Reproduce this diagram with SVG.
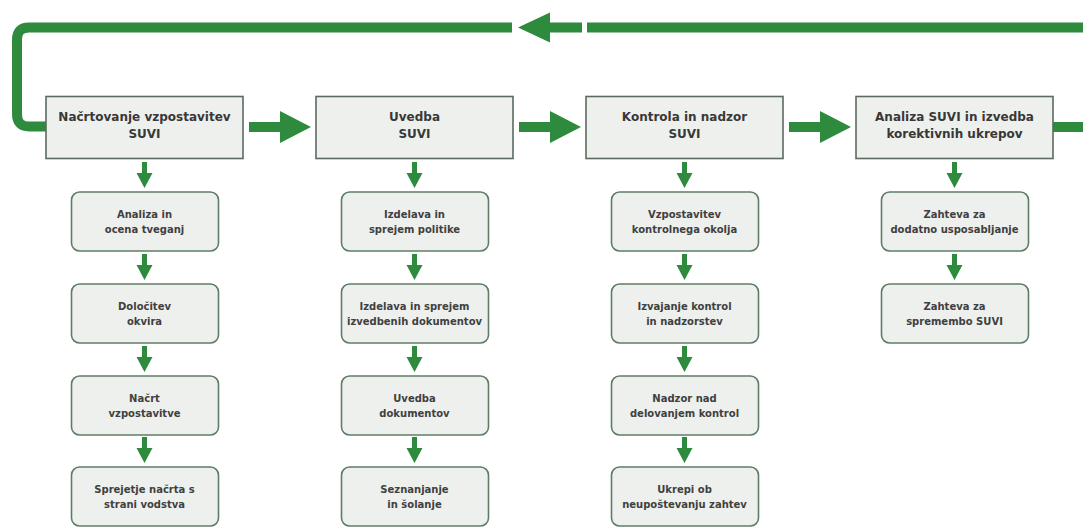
<svg xmlns="http://www.w3.org/2000/svg" xmlns:xlink="http://www.w3.org/1999/xlink" width="1083" height="527" viewBox="0 0 1083 527">
<style>
.main rect{fill:#eef0ee;stroke:#5c6a5f;stroke-width:1.6}
.sub rect{fill:#eef0ee;stroke:#5f7d66;stroke-width:1.6}
.main text{font-family:"DejaVu Sans",Verdana,sans-serif;font-weight:bold;font-size:12px;fill:#383838;text-anchor:middle}
.sub text{font-family:"DejaVu Sans",Verdana,sans-serif;font-weight:bold;font-size:10px;fill:#404040;text-anchor:middle}
.g{fill:#2e8b3d}
.bar{fill:none;stroke:#2e8b3d;stroke-width:10}
</style>
<defs>
<path id="va" class="g" d="M-2.5,-26 H2.5 V-15 H8 L0,0 L-8,-15 H-2.5 Z"/>
<path id="ha" class="g" d="M0,-5 H31 V-16 L62,0 L31,16 V5 H0 Z"/>
</defs>
<rect width="1083" height="527" fill="#ffffff"/>
<g id="connectors">
<path class="bar" d="M1083,27.5 H587"/>
<path class="g" d="M582,22.5 V32.5 H550 V42.5 L518,27.5 L550,12.5 V22.5 Z"/>
<path class="bar" d="M512,27.5 H29 Q17,27.5 17,39.5 V114 Q17,126.5 29,126.5 H46"/>
<path class="bar" d="M1053,127 H1083"/>
<use xlink:href="#ha" x="249" y="127"/>
<use xlink:href="#ha" x="519" y="127"/>
<use xlink:href="#ha" x="789" y="127"/>
<use xlink:href="#va" x="144.5" y="188"/>
<use xlink:href="#va" x="144.5" y="280"/>
<use xlink:href="#va" x="144.5" y="372"/>
<use xlink:href="#va" x="144.5" y="463"/>
<use xlink:href="#va" x="414.5" y="188"/>
<use xlink:href="#va" x="414.5" y="280"/>
<use xlink:href="#va" x="414.5" y="372"/>
<use xlink:href="#va" x="414.5" y="463"/>
<use xlink:href="#va" x="684.5" y="188"/>
<use xlink:href="#va" x="684.5" y="280"/>
<use xlink:href="#va" x="684.5" y="372"/>
<use xlink:href="#va" x="684.5" y="463"/>
<use xlink:href="#va" x="954.5" y="188"/>
<use xlink:href="#va" x="954.5" y="280"/>
</g>
<g id="m1" class="main"><rect x="46" y="96.5" width="197" height="62"/><text x="144.5" y="121">Načrtovanje vzpostavitev</text><text x="144.5" y="138">SUVI</text></g>
<g id="m2" class="main"><rect x="316" y="96.5" width="197" height="62"/><text x="414.5" y="121">Uvedba</text><text x="414.5" y="138">SUVI</text></g>
<g id="m3" class="main"><rect x="586" y="96.5" width="197" height="62"/><text x="684.5" y="121">Kontrola in nadzor</text><text x="684.5" y="138">SUVI</text></g>
<g id="m4" class="main"><rect x="856" y="96.5" width="197" height="62"/><text x="954.5" y="121">Analiza SUVI in izvedba</text><text x="954.5" y="138">korektivnih ukrepov</text></g>

<g id="a1" class="sub"><rect x="71.5" y="192" width="147" height="59" rx="8"/><text x="144.5" y="218">Analiza in</text><text x="144.5" y="233">ocena tveganj</text></g>
<g id="a2" class="sub"><rect x="71.5" y="284" width="147" height="59" rx="8"/><text x="144.5" y="310">Določitev</text><text x="144.5" y="325">okvira</text></g>
<g id="a3" class="sub"><rect x="71.5" y="376" width="147" height="59" rx="8"/><text x="144.5" y="402">Načrt</text><text x="144.5" y="417">vzpostavitve</text></g>
<g id="a4" class="sub"><rect x="71.5" y="467" width="147" height="59" rx="8"/><text x="144.5" y="493">Sprejetje načrta s</text><text x="144.5" y="508">strani vodstva</text></g>

<g id="b1" class="sub"><rect x="341.5" y="192" width="147" height="59" rx="8"/><text x="414.5" y="218">Izdelava in</text><text x="414.5" y="233">sprejem politike</text></g>
<g id="b2" class="sub"><rect x="341.5" y="284" width="147" height="59" rx="8"/><text x="414.5" y="310">Izdelava in sprejem</text><text x="414.5" y="325">izvedbenih dokumentov</text></g>
<g id="b3" class="sub"><rect x="341.5" y="376" width="147" height="59" rx="8"/><text x="414.5" y="402">Uvedba</text><text x="414.5" y="417">dokumentov</text></g>
<g id="b4" class="sub"><rect x="341.5" y="467" width="147" height="59" rx="8"/><text x="414.5" y="493">Seznanjanje</text><text x="414.5" y="508">in šolanje</text></g>

<g id="c1" class="sub"><rect x="611.5" y="192" width="147" height="59" rx="8"/><text x="684.5" y="218">Vzpostavitev</text><text x="684.5" y="233">kontrolnega okolja</text></g>
<g id="c2" class="sub"><rect x="611.5" y="284" width="147" height="59" rx="8"/><text x="684.5" y="310">Izvajanje kontrol</text><text x="684.5" y="325">in nadzorstev</text></g>
<g id="c3" class="sub"><rect x="611.5" y="376" width="147" height="59" rx="8"/><text x="684.5" y="402">Nadzor nad</text><text x="684.5" y="417">delovanjem kontrol</text></g>
<g id="c4" class="sub"><rect x="611.5" y="467" width="147" height="59" rx="8"/><text x="684.5" y="493">Ukrepi ob</text><text x="684.5" y="508">neupoštevanju zahtev</text></g>

<g id="d1" class="sub"><rect x="881.5" y="192" width="147" height="59" rx="8"/><text x="954.5" y="218">Zahteva za</text><text x="954.5" y="233">dodatno usposabljanje</text></g>
<g id="d2" class="sub"><rect x="881.5" y="284" width="147" height="59" rx="8"/><text x="954.5" y="310">Zahteva za</text><text x="954.5" y="325">spremembo SUVI</text></g>
</svg>
